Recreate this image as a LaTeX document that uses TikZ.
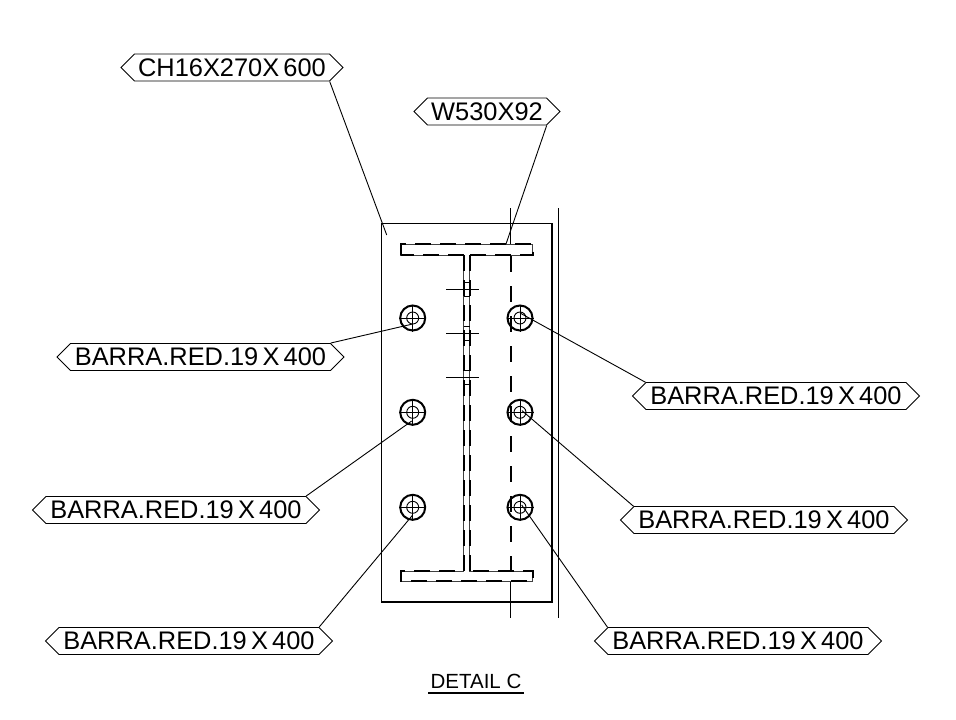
\documentclass[tikz,border=0pt]{standalone}
\usepackage{fontspec}
\setmainfont{Liberation Sans}
\newfontfamily\tagfont[WordSpace=0.6]{Liberation Sans}
\usetikzlibrary{shapes,calc}
\tikzset{
  tagbox/.style={draw, line width=0.9pt, signal, signal to=east and west, signal pointer angle=90, inner xsep=0pt, inner ysep=0pt, minimum height=27pt, font=\tagfont\fontsize{25.4}{26}\selectfont},
  leader/.style={line width=0.9pt},
  beamline/.style={line width=2pt, dash pattern=on 16pt off 9pt},
  thinline/.style={line width=1pt, black!75}
}
\begin{document}
\begin{tikzpicture}[x=1pt, y=-1pt]
            \useasboundingbox (0,0) rectangle (956,720);

            % Plate and lines
            \draw[line width=1.1pt] (381.7,223.3) rectangle (552,602);
            \draw[line width=1.1pt] (558.7,208) -- (558.7,618);
            \draw[line width=1.1pt] (510.7,208) -- (510.7,245);
            \draw[line width=1.1pt] (510.7,582) -- (510.7,618);
            \draw[line width=2.2pt, dash pattern=on 16pt off 14pt] (510.7,256) -- (510.7,582);

            % Beam
            \draw[thinline] (400.7,244.3) -- (532.7,244.3) -- (532.7,255) -- (469.7,255) -- (469.7,571) -- (532.7,571) -- (532.7,581.3) -- (400.7,581.3) -- (400.7,571) -- (463.7,571) -- (463.7,255) -- (400.7,255) -- cycle;
            \draw[beamline] (400.7,255) -- (400.7,244.3) -- (532.7,244.3) -- (532.7,255) -- (469.7,255);
            \draw[beamline] (463.7,255) -- (400.7,255);
            \draw[beamline] (463.7,255) -- (463.7,571) -- (400.7,571) -- (400.7,581.3) -- (532.7,581.3) -- (532.7,571) -- (469.7,571);
            \draw[beamline] (469.7,255) -- (469.7,571);

            % Weld marks
            \foreach \y in {289,333,377} {
                \draw[line width=0.9pt] (446,\y) -- (479.3,\y);
                \draw[line width=0.9pt] (463.7,\y-7) -- (469.7,\y-7);
                \draw[line width=0.9pt] (463.7,\y+7) -- (469.7,\y+7);
            }

            % Bars
            \foreach \x/\y in {412.7/318,412.7/412.3,412.7/507.3,520/318,520/412.3,520/507.3} {
                \draw[line width=2pt] (\x,\y) circle (12.5);
                \draw[line width=0.9pt] (\x,\y) circle (6);
                \draw[line width=0.8pt] (\x-13.5,\y) -- (\x+13.5,\y);
                \draw[line width=0.8pt] (\x,\y-13.5) -- (\x,\y+13.5);
            }

            % Leader ends
            \coordinate (chend) at (386.7,235);
            \coordinate (wend) at (506,244);
            \coordinate (la) at (412.7,324);
            \coordinate (lb) at (411.7,421);
            \coordinate (lc) at (412.7,515);
            \coordinate (ra) at (520,313);
            \coordinate (rb) at (522,410.6);
            \coordinate (rc) at (521.7,505);

            % Tags
            \node[tagbox, minimum width=222pt] (chtag) at (232,67.5) {CH16X270X 600};
            \node[tagbox, minimum width=146pt] (wtag) at (487,111.5) {W530X92};
            \node[tagbox, minimum width=287pt] (latag) at (200.5,357) {BARRA.RED.19 X 400};
            \node[tagbox, minimum width=287pt] (lbtag) at (176,510) {BARRA.RED.19 X 400};
            \node[tagbox, minimum width=287pt] (lctag) at (189,641) {BARRA.RED.19 X 400};
            \node[tagbox, minimum width=287pt] (ratag) at (776,396) {BARRA.RED.19 X 400};
            \node[tagbox, minimum width=287pt] (rbtag) at (764,520) {BARRA.RED.19 X 400};
            \node[tagbox, minimum width=287pt] (rctag) at (738,641) {BARRA.RED.19 X 400};

            % Leaders
            \draw[leader] (chtag.south east) -- (chend);
            \draw[leader] (wtag.south east) -- (wend);
            \draw[leader] (latag.north east) -- (la);
            \draw[leader] (lbtag.north east) -- (lb);
            \draw[leader] (lctag.north east) -- (lc);
            \draw[leader] (ratag.north west) -- (ra);
            \draw[leader] (rbtag.north west) -- (rb);
            \draw[leader] (rctag.north west) -- (rc);

            % Title
            \node[font=\fontsize{20.5}{21}\selectfont, inner xsep=2pt, inner ysep=4.4pt] (title) at (476,681) {DETAIL C};
            \draw[line width=1.3pt] (title.south west) -- (title.south east);
        \end{tikzpicture}
\end{document}
